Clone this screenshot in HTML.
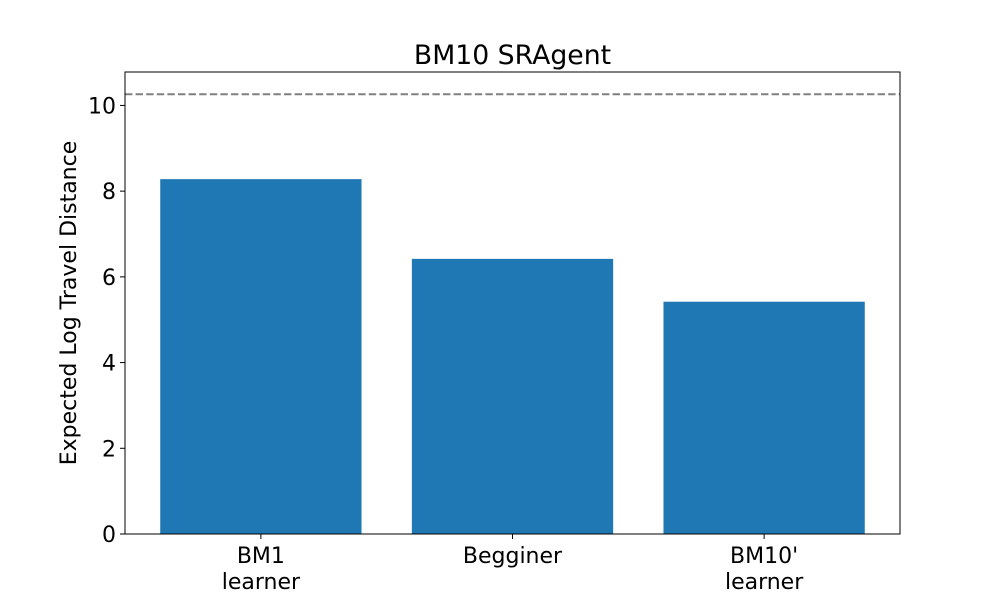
<!DOCTYPE html>
<html><head><meta charset="utf-8"><style>
html,body{margin:0;padding:0;background:#fff;}
svg{display:block;font-family:"DejaVu Sans","Liberation Sans",sans-serif;}
</style></head><body>
<svg id="chart" width="1000" height="600" viewBox="0 0 1000 600"></svg>
<script>
const categories = ["BM1\nlearner", "Begginer", "BM10'\nlearner"];
const values = [8.28, 6.42, 5.42];
const yTicks = [0, 2, 4, 6, 8, 10];
const refLine = [10.26];
const yMax = 10.78;

const L=125,R=900,T=72,B=534;
const NS="http://www.w3.org/2000/svg";
const svg=document.getElementById('chart');
const xs=v=>L+(v+0.54)/3.08*(R-L);
const ys=v=>B-v/yMax*(B-T);
function mk(tag,attrs,parent){const e=document.createElementNS(NS,tag);for(const k in attrs)e.setAttribute(k,attrs[k]);(parent||svg).appendChild(e);return e;}

values.forEach((v,i)=>{
  const w=0.8*(R-L)/3.08;
  const r=mk('rect',{x:xs(i)-w/2,y:ys(v),width:w,height:B-ys(v),fill:'#1f77b4'});
  
  
});
refLine.forEach(v=>{
  const l=mk('line',{x1:L,x2:R,y1:ys(v),y2:ys(v),stroke:'#808080','stroke-width':2,'stroke-dasharray':'7.4,3.2'});
  
  
});
const frame=mk('rect',{x:L,y:T,width:R-L,height:B-T,fill:'none',stroke:'#000','stroke-width':1});



yTicks.forEach(t=>{
  const y=ys(t);
  const tk=mk('line',{x1:L-5,x2:L,y1:y,y2:y,stroke:'#000','stroke-width':1});
  
  
  const tx=mk('text',{x:L-9,y:y+8,'text-anchor':'end','font-size':22,fill:'#000'});
  tx.textContent=t;
  
  
});
categories.forEach((c,i)=>{
  const x=xs(i);
  const tk=mk('line',{x1:x,x2:x,y1:B,y2:B+5,stroke:'#000','stroke-width':1});
  
  
  const tx=mk('text',{x:x,y:B+29,'text-anchor':'middle','font-size':22,fill:'#000'});
  
  
  c.split('\n').forEach((line,j)=>{const s=mk('tspan',{x:x,dy:j?26:0},tx);s.textContent=line;});
});
const title=mk('text',{x:(L+R)/2,y:64,'text-anchor':'middle','font-size':26.7,fill:'#000'});
title.textContent='BM10 SRAgent';


const yl=mk('text',{x:0,y:0,'text-anchor':'middle','font-size':22,fill:'#000',transform:'translate(76,303) rotate(-90)'});
yl.textContent='Expected Log Travel Distance';


</script>
</body></html>
